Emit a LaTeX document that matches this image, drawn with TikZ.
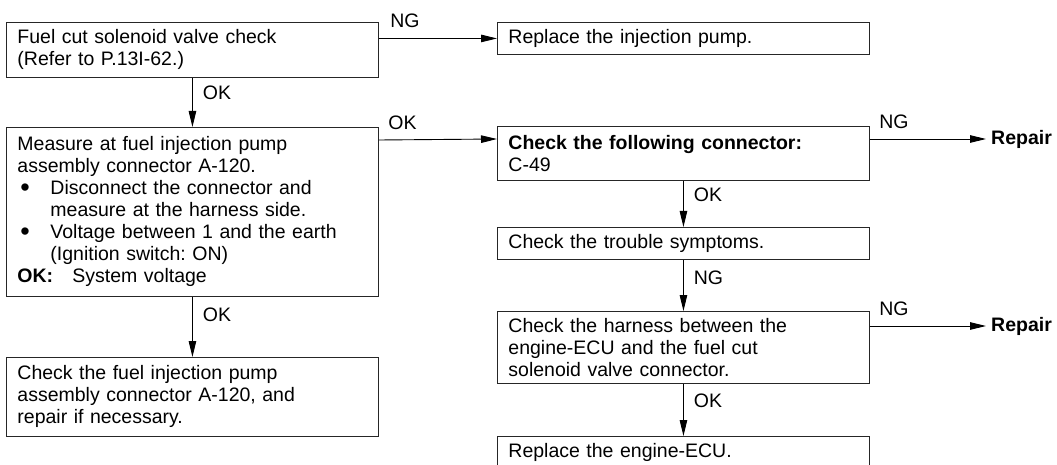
\documentclass[tikz,border=0pt]{standalone}
\usepackage{fontspec}
\setmainfont{Liberation Sans}
\usetikzlibrary{arrows.meta}
\frenchspacing
\newcommand{\boxfont}{\fontsize{19.5}{22}\selectfont\spaceskip=7.5pt plus 2pt minus 1pt\relax}
\newcommand{\dotmark}{\makebox[33pt][l]{\hspace{3pt}\raisebox{-1.5pt}{\fontsize{27}{22}\selectfont\textbullet}}}

\begin{document}
\begin{tikzpicture}[x=1pt, y=-1pt,
    box/.style={draw=black!85, line width=0.9pt, anchor=north west, align=left,
      text width=350pt, inner xsep=11pt, inner ysep=0pt, font=\boxfont},
    flow/.style={-{Triangle[length=16pt,width=7.5pt]}, line width=0.9pt},
    tag/.style={font=\fontsize{19.5}{22}\selectfont, inner sep=0pt},
    fix/.style={font=\fontsize{19.5}{22}\selectfont\bfseries, anchor=west,
      inner xsep=5pt, inner ysep=0pt}]
    \useasboundingbox (0,0) rectangle (1057,465);

    % left column
    \node[box, minimum height=55pt] (fuel) at (6,22)
        {Fuel cut solenoid valve check\\(Refer to P.13I-62.)};
    \node[box, minimum height=169pt] (meas) at (6,127)
        {Measure at fuel injection pump\\
         assembly connector A-120.\\
         \dotmark Disconnect the connector and\\
         \hspace*{33pt}measure at the harness side.\\
         \dotmark Voltage between 1 and the earth\\
         \hspace*{33pt}(Ignition switch: ON)\\
         \makebox[55pt][l]{\textbf{OK:}}System voltage};
    \node[box, minimum height=79pt] (conn) at (6,357)
        {Check the fuel injection pump\\assembly connector A-120, and\\repair if necessary.};

    % right column
    \node[box, minimum height=32pt] (repl) at (497,22) {Replace the injection pump.};
    \node[box, minimum height=54pt] (chk) at (497,126)
        {\textbf{Check the following connector:}\\C-49};
    \node[box, minimum height=32pt] (trbl) at (497,227) {Check the trouble symptoms.};
    \node[box, minimum height=72pt] (harn) at (497,311)
        {Check the harness between the\\engine-ECU and the fuel cut\\solenoid valve connector.};
    \node[box, minimum height=33pt] (ecu) at (497,436) {Replace the engine-ECU.};

    % repair ends
    \node[fix] (rep1) at (986,139) {Repair};
    \node[fix] (rep2) at (986,326) {Repair};

    % connectors
    \draw[flow] (fuel.east |- repl.west) --
        node[tag, pos=0, anchor=south west, xshift=11pt, yshift=10pt] (ng1) {NG} (repl.west);
    \draw[flow] (fuel) -- node[tag, pos=0.3, anchor=west, xshift=10pt] (ok1) {OK} (meas);
    \draw[flow] ([yshift=-13pt]meas.north east) --
        node[tag, pos=0, anchor=south west, xshift=9pt, yshift=10pt] (ok2) {OK} ([yshift=-13pt]chk.north west);
    \draw[flow] (meas) -- node[tag, pos=0.3, anchor=west, xshift=10pt] (ok3) {OK} (conn);
    \draw[flow] (chk.east |- rep1.west) --
        node[tag, pos=0, anchor=south west, xshift=9pt, yshift=10pt] (ng2) {NG} (rep1.west);
    \draw[flow] (chk) -- node[tag, pos=0.3, anchor=west, xshift=10pt] (ok4) {OK} (trbl);
    \draw[flow] (trbl) -- node[tag, pos=0.35, anchor=west, xshift=10pt] (ng3) {NG} (harn);
    \draw[flow] (harn.east |- rep2.west) --
        node[tag, pos=0, anchor=south west, xshift=9pt, yshift=10pt] (ng4) {NG} (rep2.west);
    \draw[flow] (harn) -- node[tag, pos=0.32, anchor=west, xshift=10pt] (ok5) {OK} (ecu);
\end{tikzpicture}
\end{document}
